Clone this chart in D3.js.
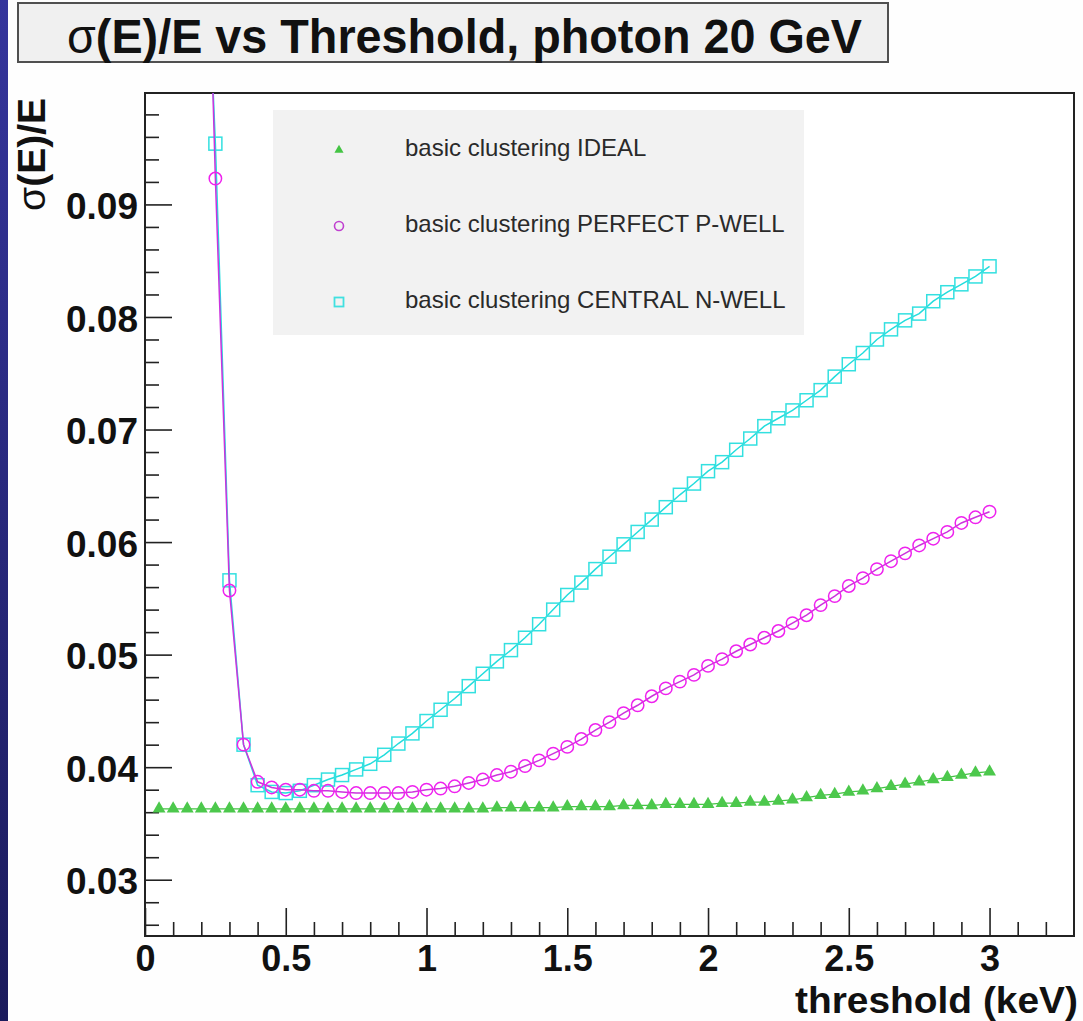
<!DOCTYPE html>
<html><head><meta charset="utf-8">
<script src="https://cdn.jsdelivr.net/npm/d3@7"></script>
<style>html,body{margin:0;padding:0;background:#fff;overflow:hidden}svg{display:block}</style>
</head><body>
<svg id="chart" width="1083" height="1021"></svg>
<script>
// ---------- data ----------
const thresholds = [0.05,0.10,0.15,0.20,0.25,0.30,0.35,0.40,0.45,0.50,0.55,0.60,0.65,0.70,0.75,0.80,0.85,0.90,0.95,1.00,
  1.05,1.10,1.15,1.20,1.25,1.30,1.35,1.40,1.45,1.50,1.55,1.60,1.65,1.70,1.75,1.80,1.85,1.90,1.95,2.00,
  2.05,2.10,2.15,2.20,2.25,2.30,2.35,2.40,2.45,2.50,2.55,2.60,2.65,2.70,2.75,2.80,2.85,2.90,2.95,3.00];

const idealValues = [0.0363,0.0363,0.0363,0.0363,0.0363,0.0363,0.0363,0.0363,0.0363,0.0363,
  0.0363,0.0363,0.0363,0.0363,0.0363,0.0363,0.0363,0.0363,0.0363,0.0363,
  0.0363,0.0363,0.0363,0.0363,0.0364,0.0364,0.0364,0.0364,0.0364,0.0365,
  0.0365,0.0365,0.0365,0.0366,0.0366,0.0366,0.0367,0.0367,0.0367,0.0367,
  0.0368,0.0368,0.0369,0.0369,0.0370,0.0371,0.0373,0.0375,0.0376,0.0378,
  0.0379,0.0381,0.0383,0.0385,0.0387,0.0389,0.0391,0.0393,0.0395,0.0396];

const pWellValues = [null,null,null,0.136,0.0923,0.0557,0.0420,0.0387,0.0382,0.0380,
  0.0380,0.0379,0.0379,0.0378,0.0377,0.0377,0.0377,0.0377,0.0378,0.0380,
  0.0381,0.0383,0.0386,0.0389,0.0393,0.0396,0.0401,0.0406,0.0412,0.0418,
  0.0425,0.0433,0.0440,0.0448,0.0455,0.0463,0.0470,0.0476,0.0482,0.0490,
  0.0496,0.0503,0.0509,0.0515,0.0521,0.0528,0.0535,0.0544,0.0552,0.0561,
  0.0568,0.0576,0.0583,0.0590,0.0597,0.0603,0.0609,0.0617,0.0622,0.0627];

const nWellValues = [null,null,null,0.125,0.0954,0.0566,0.0420,0.0384,0.0378,0.0377,
  0.0379,0.0384,0.0389,0.0393,0.0398,0.0403,0.0411,0.0421,0.0430,0.0441,
  0.0451,0.0461,0.0472,0.0483,0.0494,0.0504,0.0515,0.0527,0.0540,0.0553,
  0.0564,0.0576,0.0587,0.0598,0.0609,0.0620,0.0631,0.0642,0.0652,0.0663,
  0.0671,0.0682,0.0692,0.0703,0.0710,0.0717,0.0726,0.0735,0.0747,0.0758,
  0.0768,0.0780,0.0789,0.0797,0.0803,0.0814,0.0822,0.0829,0.0836,0.0845];

const seriesNames = ["basic clustering IDEAL","basic clustering PERFECT P-WELL","basic clustering CENTRAL N-WELL"];
const xTickValues = [0,0.5,1,1.5,2,2.5,3];
const xTickLabels = ["0","0.5","1","1.5","2","2.5","3"];
const yTickValues = [0.03,0.04,0.05,0.06,0.07,0.08,0.09];
const yTickLabels = ["0.03","0.04","0.05","0.06","0.07","0.08","0.09"];
const titleMain = "(E)/E vs Threshold, photon 20 GeV";
const xTitle = "threshold (keV)";
const yTitleMain = "(E)/E";

// ---------- layout ----------
const FONT = "'Liberation Sans', Arial, Helvetica, sans-serif";
const L = 145, R = 1074, T = 93, B = 936;
const svg = d3.select("#chart");
const x = d3.scaleLinear().domain([0, 3.3]).range([L, R]);
const y = d3.scaleLinear().domain([0.025, 0.0999]).range([B, T]);

// background + left slide strip
svg.append("rect").attr("width",1083).attr("height",1021).attr("fill","#fefefe");
const defs = svg.append("defs");
const grad = defs.append("linearGradient").attr("id","strip").attr("x1",0).attr("y1",0).attr("x2",0).attr("y2",1);
grad.append("stop").attr("offset","0%").attr("stop-color","#35359c");
grad.append("stop").attr("offset","100%").attr("stop-color","#1b1b5c");
svg.append("rect").attr("x",0).attr("y",0).attr("width",8).attr("height",1021).attr("fill","url(#strip)");
defs.append("clipPath").attr("id","plotclip").append("rect")
  .attr("x",L).attr("y",T).attr("width",R-L).attr("height",B-T);

// title box
svg.append("rect").attr("x",18).attr("y",3).attr("width",870).attr("height",59)
  .attr("fill","#f0f0f0").attr("stroke","#505050").attr("stroke-width",2);
const tt = svg.append("text").attr("x",67).attr("y",53)
  .attr("font-family",FONT).attr("font-size",48).attr("font-weight","bold").attr("fill","#111")
  .attr("textLength",795).attr("lengthAdjust","spacingAndGlyphs");
tt.append("tspan").attr("font-weight","normal").text("σ");
tt.append("tspan").text(titleMain);

// plot area
svg.append("rect").attr("x",L).attr("y",T).attr("width",R-L).attr("height",B-T).attr("fill","#ffffff");

// axes
const minorX = d3.range(0, 3.25, 0.1).filter(v => Math.abs(v*2 - Math.round(v*2)) > 1e-6);
const minorY = d3.range(0.026, 0.0995, 0.002).filter(v => Math.abs(v*100 - Math.round(v*100)) > 1e-6);

const gxMinor = svg.append("g").attr("transform",`translate(0,${B})`)
  .call(d3.axisBottom(x).tickValues(minorX).tickSizeInner(-14).tickSizeOuter(0).tickFormat(""));
const gx = svg.append("g").attr("transform",`translate(0,${B})`)
  .call(d3.axisBottom(x).tickValues(xTickValues).tickSizeInner(-28).tickSizeOuter(0).tickPadding(9)
    .tickFormat((d,i) => xTickLabels[i]));
const gyMinor = svg.append("g").attr("transform",`translate(${L},0)`)
  .call(d3.axisLeft(y).tickValues(minorY).tickSizeInner(-14).tickSizeOuter(0).tickFormat(""));
const gy = svg.append("g").attr("transform",`translate(${L},0)`)
  .call(d3.axisLeft(y).tickValues(yTickValues).tickSizeInner(-27).tickSizeOuter(0).tickPadding(7)
    .tickFormat((d,i) => yTickLabels[i]));
[gxMinor,gx,gyMinor,gy].forEach(g => {
  g.select(".domain").remove();
  g.selectAll(".tick line").attr("stroke","#222").attr("stroke-width",1.6);
  g.selectAll("text").attr("font-family",FONT).attr("font-size",36).attr("font-weight","bold").attr("fill","#111");
});
gy.selectAll("text").attr("font-size",37).attr("dy","0.38em");

// frame
svg.append("rect").attr("x",L).attr("y",T).attr("width",R-L).attr("height",B-T)
  .attr("fill","none").attr("stroke","#222").attr("stroke-width",2);

// axis titles
svg.append("text").attr("x",1078).attr("y",1013).attr("text-anchor","end")
  .attr("font-family",FONT).attr("font-size",36).attr("font-weight","bold").attr("fill","#111")
  .attr("textLength",283).attr("lengthAdjust","spacingAndGlyphs").text(xTitle);
const yt = svg.append("text").attr("transform","translate(45,98) rotate(-90)").attr("text-anchor","end")
  .attr("font-family",FONT).attr("font-size",39).attr("font-weight","bold").attr("fill","#111");
yt.append("tspan").attr("font-weight","normal").text("σ");
yt.append("tspan").text(yTitleMain);

// legend
const legendRows = [
  {name: seriesNames[0], type: "tri", color: "#44c444"},
  {name: seriesNames[1], type: "circ", color: "#c040d0"},
  {name: seriesNames[2], type: "sq", color: "#40e0e0"}
];
svg.append("rect").attr("x",273).attr("y",110).attr("width",531).attr("height",225).attr("fill","#f2f2f2");
const legendY = d3.scalePoint().domain(seriesNames).range([150, 302]);
legendRows.forEach(r => {
  const cy = legendY(r.name);
  const g = svg.append("g").attr("transform",`translate(339,${cy})`);
  if (r.type === "tri") g.append("path").attr("d", d3.symbol(d3.symbolTriangle, 36)()).attr("fill", r.color);
  if (r.type === "circ") g.append("circle").attr("r",4.5).attr("fill","none").attr("stroke",r.color).attr("stroke-width",1.6);
  if (r.type === "sq") g.append("rect").attr("x",-4.5).attr("y",-4.5).attr("width",9).attr("height",9)
    .attr("fill","none").attr("stroke",r.color).attr("stroke-width",1.8);
  svg.append("text").attr("x",405).attr("y",cy+6).attr("font-family",FONT).attr("font-size",24)
    .attr("fill","#2a2a2a").text(r.name);
});

// data
const pts = vals => thresholds.map((t,i) => ({x: t, v: vals[i]})).filter(d => d.v != null);
const line = d3.line().x(d => x(d.x)).y(d => y(d.v));
const plot = svg.append("g").attr("clip-path","url(#plotclip)");

const ideal = pts(idealValues), pwell = pts(pWellValues), nwell = pts(nWellValues);

// ideal
plot.append("path").datum(ideal).attr("d",line).attr("fill","none").attr("stroke","#44c444").attr("stroke-width",1.2);
plot.selectAll(".tri").data(ideal).join("path").attr("class","tri")
  .attr("transform",d => `translate(${x(d.x)},${y(d.v)})`)
  .attr("d", d3.symbol(d3.symbolTriangle, 72)()).attr("fill","#4cc84c");

// n-well (cyan squares)
plot.append("path").datum(nwell).attr("d",line).attr("fill","none").attr("stroke","#22dddd").attr("stroke-width",1.5);
plot.selectAll(".sq").data(nwell).join("rect").attr("class","sq")
  .attr("x",d => x(d.x)-6.5).attr("y",d => y(d.v)-6.5).attr("width",13).attr("height",13)
  .attr("fill","none").attr("stroke","#33e0e0").attr("stroke-width",1.5);

// p-well (magenta circles)
plot.append("path").datum(pwell).attr("d",line).attr("fill","none").attr("stroke","#cc33dd").attr("stroke-width",1.5);
plot.selectAll(".circ").data(pwell).join("circle").attr("class","circ")
  .attr("cx",d => x(d.x)).attr("cy",d => y(d.v)).attr("r",6.2)
  .attr("fill","none").attr("stroke","#ee22ee").attr("stroke-width",1.5);
</script>
</body></html>
